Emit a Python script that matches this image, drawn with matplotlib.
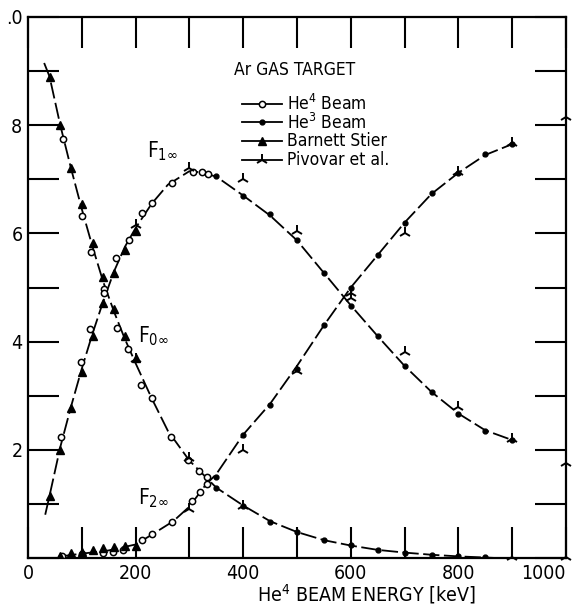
import matplotlib
matplotlib.use('Agg')
import matplotlib.pyplot as plt
from matplotlib import font_manager

# pick a narrow font if the system has one
names = set(f.name for f in font_manager.fontManager.ttflist)
fam = 'Liberation Sans Narrow' if 'Liberation Sans Narrow' in names else 'DejaVu Sans'
plt.rcParams['font.family'] = [fam, 'DejaVu Sans']
plt.rcParams['font.stretch'] = 'condensed'
plt.rcParams['mathtext.fontset'] = 'custom'
plt.rcParams['mathtext.rm'] = fam
plt.rcParams['mathtext.it'] = fam

# ---- data (energy in keV, fraction) ----
# He4 beam (open circles)
he4_f0_e = [65, 100, 117, 141, 165, 186, 210, 230, 266, 298, 318, 332]
he4_f0 = [0.775, 0.633, 0.566, 0.498, 0.426, 0.387, 0.32, 0.296, 0.224, 0.181, 0.161, 0.150]
he4_f1_e = [61, 98, 115, 141, 163, 188, 211, 230, 267, 307, 323, 335]
he4_f1 = [0.224, 0.363, 0.424, 0.49, 0.555, 0.587, 0.638, 0.657, 0.694, 0.713, 0.713, 0.709]
he4_f2_e = [63, 100, 140, 158, 177, 212, 230, 268, 305, 320, 332]
he4_f2 = [0.003, 0.008, 0.009, 0.011, 0.015, 0.033, 0.044, 0.066, 0.105, 0.122, 0.137]

# He3 beam (small dots)
he3_e = [350, 400, 450, 500, 550, 600, 650, 700, 750, 800, 850, 900]
he3_f0 = [0.13, 0.097, 0.067, 0.048, 0.033, 0.024, 0.015, 0.01, 0.006, 0.003, 0.001, None]
he3_f1 = [0.707, 0.67, 0.635, 0.587, 0.526, 0.465, 0.41, 0.354, 0.307, 0.267, 0.235, 0.218]
he3_f2 = [0.15, 0.228, 0.283, 0.35, 0.43, 0.50, 0.56, 0.62, 0.674, 0.712, 0.746, 0.765]

# Barnett Stier (filled triangles)
bs_e = [40, 60, 80, 100, 120, 140, 160, 180, 200]
bs_f0 = [0.89, 0.80, 0.72, 0.655, 0.583, 0.519, 0.461, 0.411, 0.37]
bs_f1 = [0.115, 0.20, 0.277, 0.343, 0.41, 0.472, 0.527, 0.57, 0.604]
bs_f2 = [None, 0.004, 0.01, 0.012, 0.015, 0.018, 0.02, 0.022, 0.023]

# Pivovar et al.
pv_f0_e = [200, 300, 400, 900, 1000]
pv_f0 = [0.368, 0.185, 0.097, 0.002, 0.002]
pv_f1_e = [200, 300, 400, 500, 600, 700, 800, 900, 1000]
pv_f1 = [0.615, 0.72, 0.70, 0.605, 0.49, 0.38, 0.28, 0.22, 0.175]
pv_f2_e = [300, 400, 500, 600, 700, 800, 900, 1000]
pv_f2 = [0.09, 0.20, 0.345, 0.48, 0.60, 0.713, 0.768, 0.815]

# hand drawn curves
c0_e = [30, 40, 60, 80, 100, 120, 140, 160, 180, 200, 230, 260, 300, 350, 400,
        450, 500, 550, 600, 650, 700, 750, 800, 870]
c0 = [0.915, 0.89, 0.80, 0.72, 0.645, 0.575, 0.51, 0.455, 0.405, 0.36, 0.295,
      0.235, 0.18, 0.13, 0.097, 0.068, 0.048, 0.033, 0.023, 0.015, 0.01, 0.006,
      0.003, 0.0]
c1_e = [32, 40, 60, 80, 100, 120, 140, 160, 180, 200, 230, 260, 300, 320, 350,
        400, 450, 500, 550, 600, 650, 700, 750, 800, 850, 900]
c1 = [0.08, 0.115, 0.205, 0.28, 0.35, 0.415, 0.475, 0.53, 0.575, 0.61, 0.655,
      0.69, 0.715, 0.713, 0.705, 0.67, 0.633, 0.587, 0.527, 0.467, 0.41, 0.355,
      0.307, 0.267, 0.236, 0.218]
c2_e = [60, 100, 150, 200, 230, 270, 300, 330, 350, 400, 450, 500, 550, 600,
        650, 700, 750, 800, 850, 900]
c2 = [0.003, 0.008, 0.014, 0.025, 0.043, 0.068, 0.095, 0.135, 0.155, 0.228,
      0.285, 0.355, 0.43, 0.50, 0.56, 0.62, 0.673, 0.712, 0.745, 0.765]

xticks = [0, 200, 400, 600, 800, 1000]
yticks = [0.2, 0.4, 0.6, 0.8, 1.0]
ytick_labels = ['2', '4', '6', '8', '.0']

fig = plt.figure(figsize=(5.77, 6.09), dpi=100)
ax = fig.add_axes([28 / 577, 1 - 558 / 609, 538 / 577, 541 / 609])

dash = (0, (9, 2.5))
for ce, cv in [(c0_e, c0), (c1_e, c1), (c2_e, c2)]:
    ax.plot(ce, cv, color='k', lw=1.3, linestyle=dash, zorder=2)


def pts(e, v):
    return [a for a, b in zip(e, v) if b is not None], [b for b in v if b is not None]


circ = dict(ls='none', marker='o', ms=4.5, mfc='white', mec='k', mew=1.1, zorder=3)
for e, v in [(he4_f0_e, he4_f0), (he4_f1_e, he4_f1), (he4_f2_e, he4_f2)]:
    ax.plot(e, v, **circ)

dot = dict(ls='none', marker='o', ms=3.5, color='k', zorder=3)
for v in [he3_f0, he3_f1, he3_f2]:
    ax.plot(*pts(he3_e, v), **dot)

tri = dict(ls='none', marker='^', ms=5.5, color='k', zorder=3)
for v in [bs_f0, bs_f1, bs_f2]:
    ax.plot(*pts(bs_e, v), **tri)

piv = dict(ls='none', marker='2', ms=9, mew=1.4, color='k', zorder=4, clip_on=False)
for e, v in [(pv_f0_e, pv_f0), (pv_f1_e, pv_f1), (pv_f2_e, pv_f2)]:
    ax.plot(e, v, **piv)

ax.set_xlim(0, 1000)
ax.set_ylim(0, 1.0)
ax.set_xticks(xticks)
ax.set_xticks(range(0, 1001, 100), minor=True)
ax.set_yticks(yticks)
ax.set_yticklabels(ytick_labels)
ax.set_yticks([i / 10 for i in range(11)], minor=True)
ax.tick_params(which='both', direction='in', top=True, right=True,
               length=22, width=1.5, labelsize=14, pad=4)
ax.tick_params(axis='y', which='minor', labelleft=False)
for s in ax.spines.values():
    s.set_linewidth(1.6)

ax.set_xlabel('He$^{4}$ BEAM ENERGY [keV]', fontsize=14, labelpad=2)
ax.xaxis.set_label_coords(0.628, -0.045)

# curve labels
ax.text(249, 0.752, r'$F_{1\infty}$', fontsize=15, ha='center', va='center')
ax.text(233, 0.41, r'$F_{0\infty}$', fontsize=15, ha='center', va='center')
ax.text(233, 0.11, r'$F_{2\infty}$', fontsize=15, ha='center', va='center')

ax.text(0.496, 0.902, 'Ar GAS TARGET', transform=ax.transAxes, fontsize=12.5,
        ha='center', va='center')

# legend drawn by hand
leg = [('He$^{4}$ Beam', circ), ('He$^{3}$ Beam', dot),
       ('Barnett Stier', tri), ('Pivovar et al.', piv)]
for i, (lab, st) in enumerate(leg):
    y = 0.840 - i * 0.035
    ax.plot([0.398, 0.472], [y, y], color='k', lw=1.3, transform=ax.transAxes)
    st2 = dict(st)
    st2['clip_on'] = False
    ax.plot([0.435], [y], transform=ax.transAxes, **st2)
    ax.text(0.481, y, lab, transform=ax.transAxes, fontsize=12.5, va='center')

# last x label sits inside the figure, as in the original
fig.canvas.draw()
ax.get_xticklabels()[-1].set_horizontalalignment('right')
ax.get_xticklabels()[-1].set_x(1010)

fig.savefig('out.png', dpi=100)
